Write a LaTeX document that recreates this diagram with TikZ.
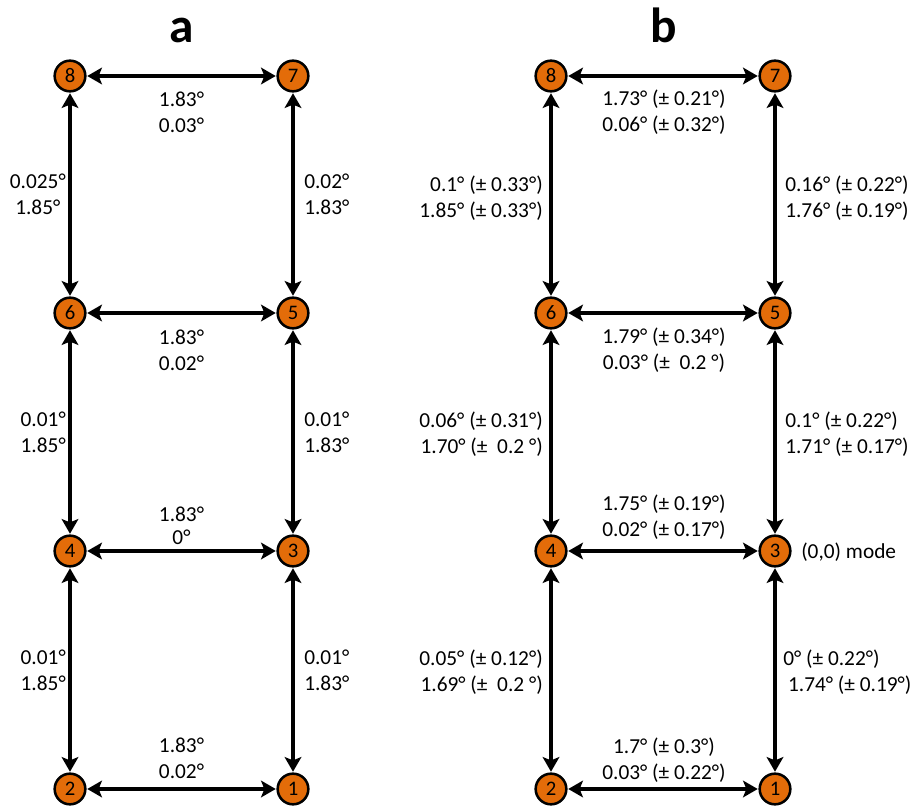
\documentclass[tikz,border=0pt]{standalone}
\usepackage{fontspec}
\setmainfont{Carlito}
\usepackage{xcolor}
\usetikzlibrary{arrows.meta}

\definecolor{modeorange}{RGB}{227,108,9}

\begin{document}
\begin{tikzpicture}[x=0.75pt,y=0.75pt,yscale=-1,xscale=1,
    mode/.style={circle,draw=black,line width=1.9pt,fill=modeorange,minimum size=23pt,inner sep=0pt,font=\fontsize{15.5}{18}\selectfont},
    link/.style={{Stealth[length=11pt,width=12.5pt,inset=2.5pt]}-{Stealth[length=11pt,width=12.5pt,inset=2.5pt]},line width=2.3pt,shorten <=0.5pt,shorten >=0.5pt},
    val/.style={inner sep=0.75pt,font=\fontsize{16}{19.5}\selectfont},
    panel/.style={inner sep=0pt,anchor=base,font=\fontsize{37}{40}\bfseries\selectfont}]
    \useasboundingbox (0,0) rectangle (911,806);

    % Panel titles
    \node [panel] (ta) at (182,43) {a};
    \node [panel] (tb) at (664,43) {b};

    % Modes a
    \node [mode] (a8) at (70,76) {8};
    \node [mode] (a7) at (293,76) {7};
    \node [mode] (a6) at (70,313) {6};
    \node [mode] (a5) at (293,313) {5};
    \node [mode] (a4) at (70,551) {4};
    \node [mode] (a3) at (293,551) {3};
    \node [mode] (a2) at (70,789) {2};
    \node [mode] (a1) at (293,789) {1};
    % Modes b
    \node [mode] (b8) at (551,76) {8};
    \node [mode] (b7) at (775,76) {7};
    \node [mode] (b6) at (551,313) {6};
    \node [mode] (b5) at (775,313) {5};
    \node [mode] (b4) at (551,551) {4};
    \node [mode] (b3) at (775,551) {3};
    \node [mode] (b2) at (551,789) {2};
    \node [mode] (b1) at (775,789) {1};

    % Links a
    \draw [link] (a8) -- (a7);
    \draw [link] (a6) -- (a5);
    \draw [link] (a4) -- (a3);
    \draw [link] (a2) -- (a1);
    \draw [link] (a8) -- (a6);
    \draw [link] (a6) -- (a4);
    \draw [link] (a4) -- (a2);
    \draw [link] (a7) -- (a5);
    \draw [link] (a5) -- (a3);
    \draw [link] (a3) -- (a1);
    % Links b
    \draw [link] (b8) -- (b7);
    \draw [link] (b6) -- (b5);
    \draw [link] (b4) -- (b3);
    \draw [link] (b2) -- (b1);
    \draw [link] (b8) -- (b6);
    \draw [link] (b6) -- (b4);
    \draw [link] (b4) -- (b2);
    \draw [link] (b7) -- (b5);
    \draw [link] (b5) -- (b3);
    \draw [link] (b3) -- (b1);

    % Text Node a, horizontal
    \node [val,align=center] (ha87) at (181.5,112) {1.83°\\0.03°};
    \node [val,align=center] (ha65) at (181.5,350) {1.83°\\0.02°};
    \node [val,align=center,font=\fontsize{16}{17}\selectfont] (ha43) at (181.5,526) {1.83°\\0°};
    \node [val,align=center] (ha21) at (181.5,758) {1.83°\\0.02°};
    % Text Node a, vertical
    \node [val,align=center,anchor=east] (va86) at (67,194) {0.025°\\1.85°};
    \node [val,align=center,anchor=east] (va64) at (67,432) {0.01°\\1.85°};
    \node [val,align=center,anchor=east] (va42) at (67,670) {0.01°\\1.85°};
    \node [val,align=center,anchor=west] (va75) at (303,194) {0.02°\\1.83°};
    \node [val,align=center,anchor=west] (va53) at (303,432) {0.01°\\1.83°};
    \node [val,align=center,anchor=west] (va31) at (303,670) {0.01°\\1.83°};

    % Text Node b, horizontal
    \node [val,align=center] (hb87) at (664,112) {1.73° (± 0.21°)\\0.06° (± 0.32°)};
    \node [val,align=center] (hb65) at (664,350) {1.79° (± 0.34°)\\0.03° (±\ \ 0.2\ °)};
    \node [val,align=center] (hb43) at (664,517) {1.75° (± 0.19°)\\0.02° (± 0.17°)};
    \node [val,align=center] (hb21) at (664,760) {1.7° (± 0.3°)\\0.03° (± 0.22°)};
    % Text Node b, vertical
    \node [val,align=right,anchor=east] (vb86) at (544,198) {0.1° (± 0.33°)\\1.85° (± 0.33°)};
    \node [val,align=right,anchor=east] (vb64) at (544,434) {0.06° (± 0.31°)\\1.70° (±\ \ 0.2\ °)};
    \node [val,align=right,anchor=east] (vb42) at (544,672) {0.05° (± 0.12°)\\1.69° (±\ \ 0.2\ °)};
    \node [val,align=left,anchor=west] (vb75) at (784,198) {0.16° (± 0.22°)\\1.76° (± 0.19°)};
    \node [val,align=left,anchor=west] (vb53) at (784,434) {0.1° (± 0.22°)\\1.71° (± 0.17°)};
    \node [val,align=left,anchor=west] (vb31) at (782,672) {0° (± 0.22°)\\\ 1.74° (± 0.19°)};

    % Text Node
    \node [val,anchor=west] (zero) at (800,552) {(0,0) mode};
\end{tikzpicture}
\end{document}
